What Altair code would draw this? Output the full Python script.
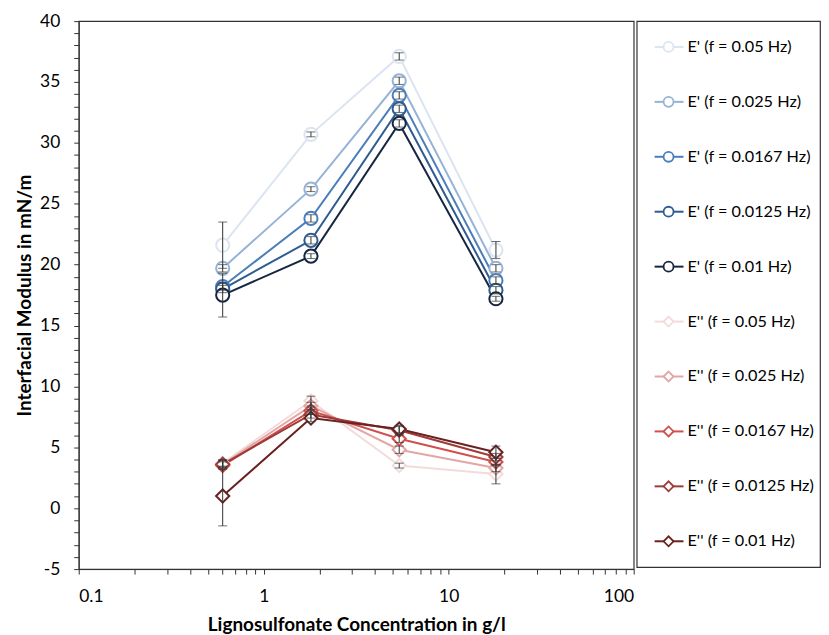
import altair as alt
import pandas as pd

FONT = "Lato"

# concentrations (g/l)
conc = [0.6, 1.8, 5.4, 18]

series = [
    "E' (f = 0.05 Hz)", "E' (f = 0.025 Hz)", "E' (f = 0.0167 Hz)",
    "E' (f = 0.0125 Hz)", "E' (f = 0.01 Hz)",
    "E'' (f = 0.05 Hz)", "E'' (f = 0.025 Hz)", "E'' (f = 0.0167 Hz)",
    "E'' (f = 0.0125 Hz)", "E'' (f = 0.01 Hz)",
]
groups = ["E'"] * 5 + ["E''"] * 5

values = [
    [21.6, 30.7, 37.1, 21.2],
    [19.7, 26.2, 35.1, 19.7],
    [18.2, 23.8, 33.9, 18.7],
    [18.0, 22.0, 32.8, 17.9],
    [17.5, 20.7, 31.6, 17.2],
    [3.7, 8.8, 3.5, 2.8],
    [3.6, 8.4, 4.8, 3.3],
    [3.5, 8.0, 5.7, 3.8],
    [3.6, 7.7, 6.4, 4.2],
    [1.0, 7.4, 6.5, 4.6],
]
errors = [
    [1.9, 0.2, 0.3, 0.7],
    [0.3, 0.2, 0.3, 0.3],
    [0.3, 0.3, 0.3, 0.3],
    [0.3, 0.3, 0.3, 0.3],
    [1.8, 0.2, 0.3, 0.2],
    [0.3, 0.4, 0.2, 0.8],
    [0.3, 0.3, 0.3, 0.3],
    [0.3, 0.3, 0.3, 0.3],
    [0.3, 0.3, 0.3, 0.3],
    [2.45, 0.3, 0.3, 0.5],
]

colors = [
    "#dbe5f1", "#95b3d7", "#4a7ebb", "#2e5b91", "#17263f",
    "#f2dcdb", "#e3a6a4", "#d0504d", "#9e3a38", "#6a2220",
]

rows = []
for s, g, vals, errs in zip(series, groups, values, errors):
    for c, v, e in zip(conc, vals, errs):
        rows.append({"series": s, "group": g, "conc": c, "value": v,
                     "lo": v - e, "hi": v + e})
df = pd.DataFrame(rows)

x_ticks = [round(m * 10 ** e, 6) for e in (-1, 0, 1) for m in range(1, 10)] + [100]
y_ticks = list(range(-5, 41))

X_TITLE = "Lignosulfonate Concentration in g/l"
Y_TITLE = "Interfacial Modulus in mN/m"

xscale = alt.Scale(type="log", domain=[0.1, 100], nice=False)
yscale = alt.Scale(domain=[-5, 40], nice=False, zero=False)
cscale = alt.Scale(domain=series, range=colors)
sscale = alt.Scale(domain=["E'", "E''"], range=["circle", "diamond"])

xaxis = alt.Axis(values=x_ticks,
                 labelExpr="indexof([0.1,1,10,100], datum.value) >= 0 ? '' + datum.value : ''",
                 labelOverlap=False, tickSize=5, labelPadding=14, titlePadding=10, grid=False)
yaxis = alt.Axis(values=y_ticks, labelExpr="datum.value % 5 == 0 ? '' + datum.value : ''",
                 labelOverlap=False, tickSize=5, labelPadding=14, titlePadding=5, grid=False)

X = alt.X("conc:Q", scale=xscale, axis=xaxis, title=X_TITLE)


def Yf(field):
    return alt.Y(field, scale=yscale, axis=yaxis, title=Y_TITLE)


base = alt.Chart(df).encode(
    x=X, y=Yf("value:Q"),
    color=alt.Color("series:N", scale=cscale, legend=None),
)
lines = base.mark_line(strokeWidth=2)
points = base.mark_point(size=175, strokeWidth=2, fill="white", fillOpacity=1, opacity=1).encode(
    shape=alt.Shape("group:N", scale=sscale, legend=None)
)
err_base = alt.Chart(df).encode(x=X)
err_rule = err_base.mark_rule(color="#333333", strokeWidth=1).encode(
    y=Yf("lo:Q"), y2="hi:Q")
cap_lo = err_base.mark_tick(color="#333333", thickness=1, size=9, orient="horizontal").encode(
    y=Yf("lo:Q"))
cap_hi = err_base.mark_tick(color="#333333", thickness=1, size=9, orient="horizontal").encode(
    y=Yf("hi:Q"))

main = alt.layer(lines, points, err_rule, cap_lo, cap_hi).properties(width=557, height=550)

leg_df = pd.DataFrame({"series": series, "group": groups})
LY = alt.Y("series:N", scale=alt.Scale(type="point", domain=series, padding=0.47), axis=None)
leg_base = alt.Chart(leg_df).encode(y=LY)
leg_rule = leg_base.mark_rule(strokeWidth=2).encode(
    x=alt.value(18), x2=alt.value(47),
    color=alt.Color("series:N", scale=cscale, legend=None))
leg_pt = leg_base.mark_point(size=100, strokeWidth=1.8, fill="white", fillOpacity=1, opacity=1).encode(
    x=alt.value(32),
    color=alt.Color("series:N", scale=cscale, legend=None),
    shape=alt.Shape("group:N", scale=sscale, legend=None))
leg_txt = leg_base.mark_text(align="left", baseline="middle", fontSize=16.3, font=FONT, color="#000000").encode(
    x=alt.value(51), text="series:N")
legend = alt.layer(leg_rule, leg_pt, leg_txt).properties(width=184, height=548)

chart = alt.hconcat(main, legend, spacing=3, bounds="flush").properties(
    padding={"left": 7, "top": 2, "right": 0, "bottom": 0}
).configure_view(
    stroke="#333333", strokeWidth=1.2
).configure_axis(
    domainColor="#333333", tickColor="#333333", labelColor="#000000",
    labelFont=FONT, labelFontSize=17.5, titleFont=FONT, titleFontSize=19,
    titleFontWeight="bold", titleColor="#000000"
)

chart.save("out.html", embed_options={"renderer": "svg", "actions": False})
